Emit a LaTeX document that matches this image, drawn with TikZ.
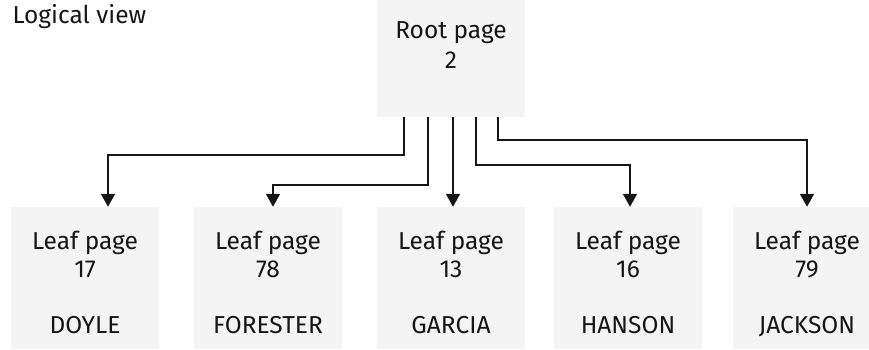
\documentclass[tikz,border=0pt]{standalone}
\usepackage{fontspec}
\setmainfont{Fira Sans}
\usetikzlibrary{arrows.meta}
\definecolor{pagegray}{HTML}{F4F4F4}
\definecolor{inkblack}{HTML}{161616}

\begin{document}
\begin{tikzpicture}[x=1pt,y=-1pt,
  font=\fontsize{24.5}{28}\selectfont, text=inkblack,
  pagebox/.style={rectangle, fill=pagegray, minimum width=148pt, align=center, inner sep=0pt},
  rootbox/.style={pagebox, minimum height=117pt},
  leafbox/.style={pagebox, minimum height=142pt},
  link/.style={draw=inkblack, line width=1.8pt, -{Triangle[width=14pt,length=13pt]}}]
\useasboundingbox (0,0) rectangle (869,349);
% title
\node[anchor=base west] (title) at (9,23) {Logical view};
% root page
\node[rootbox] (root) at (451,58.5) {Root page\\[2pt]2\rule[-27pt]{0pt}{0pt}};
% leaf pages
\node[leafbox] (doyle) at (85,278) {\rule{0pt}{34pt}Leaf page\\17\\[28pt]DOYLE\rule[-7pt]{0pt}{0pt}};
\node[leafbox] (forester) at (268,278) {\rule{0pt}{34pt}Leaf page\\78\\[28pt]FORESTER\rule[-7pt]{0pt}{0pt}};
\node[leafbox] (garcia) at (451,278) {\rule{0pt}{34pt}Leaf page\\13\\[28pt]GARCIA\rule[-7pt]{0pt}{0pt}};
\node[leafbox] (hanson) at (628,278) {\rule{0pt}{34pt}Leaf page\\16\\[28pt]HANSON\rule[-7pt]{0pt}{0pt}};
\node[leafbox] (jackson) at (807,278) {\rule{0pt}{34pt}Leaf page\\79\\[28pt]JACKSON\rule[-7pt]{0pt}{0pt}};
% pointers from root to leaves
\draw[link] ([xshift=-47pt]root.south) -- ++(0,38) -| ([xshift=23pt]doyle.north);
\draw[link] ([xshift=-23pt]root.south) -- ++(0,68) -| ([xshift=5pt]forester.north);
\draw[link] ([xshift=2pt]root.south) -- ([xshift=2pt]garcia.north);
\draw[link] ([xshift=25pt]root.south) -- ++(0,48) -| ([xshift=2pt]hanson.north);
\draw[link] ([xshift=47pt]root.south) -- ++(0,23) -| (jackson.north);
\end{tikzpicture}
\end{document}
